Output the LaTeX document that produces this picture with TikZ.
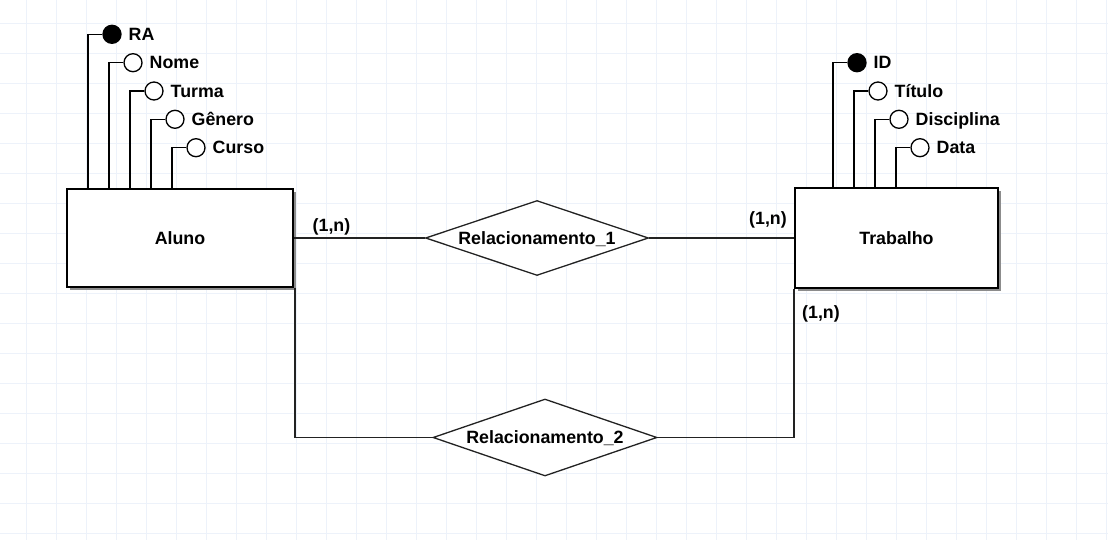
\documentclass[tikz,border=0pt]{standalone}
\usepackage{fontspec}
\setmainfont{Liberation Sans}
\usetikzlibrary{shapes.geometric,shadows}
\definecolor{gridc}{RGB}{237,242,250}
\definecolor{linec}{RGB}{34,34,34}
\begin{document}
\begin{tikzpicture}[x=1pt,y=-1pt,
  lbl/.style={font=\bfseries\fontsize{17.8}{20}\selectfont, inner sep=0pt, text=black},
  entity/.style={lbl, draw=black, line width=2pt, fill=white, rectangle,
    drop shadow={shadow xshift=3pt, shadow yshift=-3pt, fill=black!45, opacity=1}},
  rel/.style={lbl, draw=linec, line width=1.3pt, fill=white, diamond, aspect=3, text depth=0pt},
  attr/.style={circle, draw=black, line width=1.3pt, fill=white, minimum size=18pt, inner sep=0pt},
  keyattr/.style={attr, fill=black},
  attrlink/.style={draw=black, line width=1.5pt},
  conn/.style={draw=linec, line width=1.3pt},
  alabel/.style={lbl, anchor=base west},
]
\useasboundingbox (0,0) rectangle (1108,540);
\fill[white] (0,0) rectangle (1108,540);
\foreach \i in {0,...,36} \draw[gridc, line width=1.3pt] (26.5+30*\i,0) -- (26.5+30*\i,540);
\foreach \j in {0,...,17} \draw[gridc, line width=1.3pt] (0,23.7+30*\j) -- (1108,23.7+30*\j);

% entities
\node[entity, minimum width=226pt, minimum height=97pt] (aluno) at (180,238) {Aluno};
\node[entity, minimum width=203pt, minimum height=99pt] (trab) at (896.5,238) {Trabalho};

% relationships
\node[rel, minimum width=223pt, minimum height=75pt] (rel1) at (537,238) {Relacionamento\_1};
\node[rel, minimum width=224pt, minimum height=77pt] (rel2) at (545,437.5) {Relacionamento\_2};

% Aluno attributes
\node[keyattr] (ra) at (112,34.3) {};
\node[attr] (nome) at (133,62.7) {};
\node[attr] (turma) at (154,91) {};
\node[attr] (genero) at (175,119.3) {};
\node[attr] (curso) at (196,147.7) {};
\node[alabel] (ral) at ([xshift=16.5pt,yshift=-6.3pt]ra.center) {RA};
\node[alabel] (nomel) at ([xshift=16.5pt,yshift=-6.3pt]nome.center) {Nome};
\node[alabel] (turmal) at ([xshift=16.5pt,yshift=-6.3pt]turma.center) {Turma};
\node[alabel] (generol) at ([xshift=16.5pt,yshift=-6.3pt]genero.center) {Gênero};
\node[alabel] (cursol) at ([xshift=16.5pt,yshift=-6.3pt]curso.center) {Curso};
\foreach \a in {ra,nome,turma,genero,curso}
  \draw[attrlink] (\a.west) -| ([xshift=-24pt]\a.center |- aluno.north);

% Trabalho attributes
\node[keyattr] (id) at (857,62.7) {};
\node[attr] (titulo) at (878,91) {};
\node[attr] (disc) at (899,119.3) {};
\node[attr] (data) at (920,147.7) {};
\node[alabel] (idl) at ([xshift=16.5pt,yshift=-6.3pt]id.center) {ID};
\node[alabel] (titulol) at ([xshift=16.5pt,yshift=-6.3pt]titulo.center) {Título};
\node[alabel] (discl) at ([xshift=16.5pt,yshift=-6.3pt]disc.center) {Disciplina};
\node[alabel] (datal) at ([xshift=16.5pt,yshift=-6.3pt]data.center) {Data};
\foreach \a in {id,titulo,disc,data}
  \draw[attrlink] (\a.west) -| ([xshift=-24pt]\a.center |- trab.north);

% connectors
\draw[conn] (aluno.east) -- (rel1.west);
\draw[conn] (rel1.east) -- (trab.west);
\draw[conn] ([xshift=1pt]aluno.south east) |- (rel2.west);
\draw[conn] (rel2.east) -| (trab.south west);

% cardinalities
\node[lbl] (c1) at (331.5,226.5) {(1,n)};
\node[lbl] (c2) at (768,220) {(1,n)};
\node[lbl] (c3) at (821,313.5) {(1,n)};
\end{tikzpicture}
\end{document}
